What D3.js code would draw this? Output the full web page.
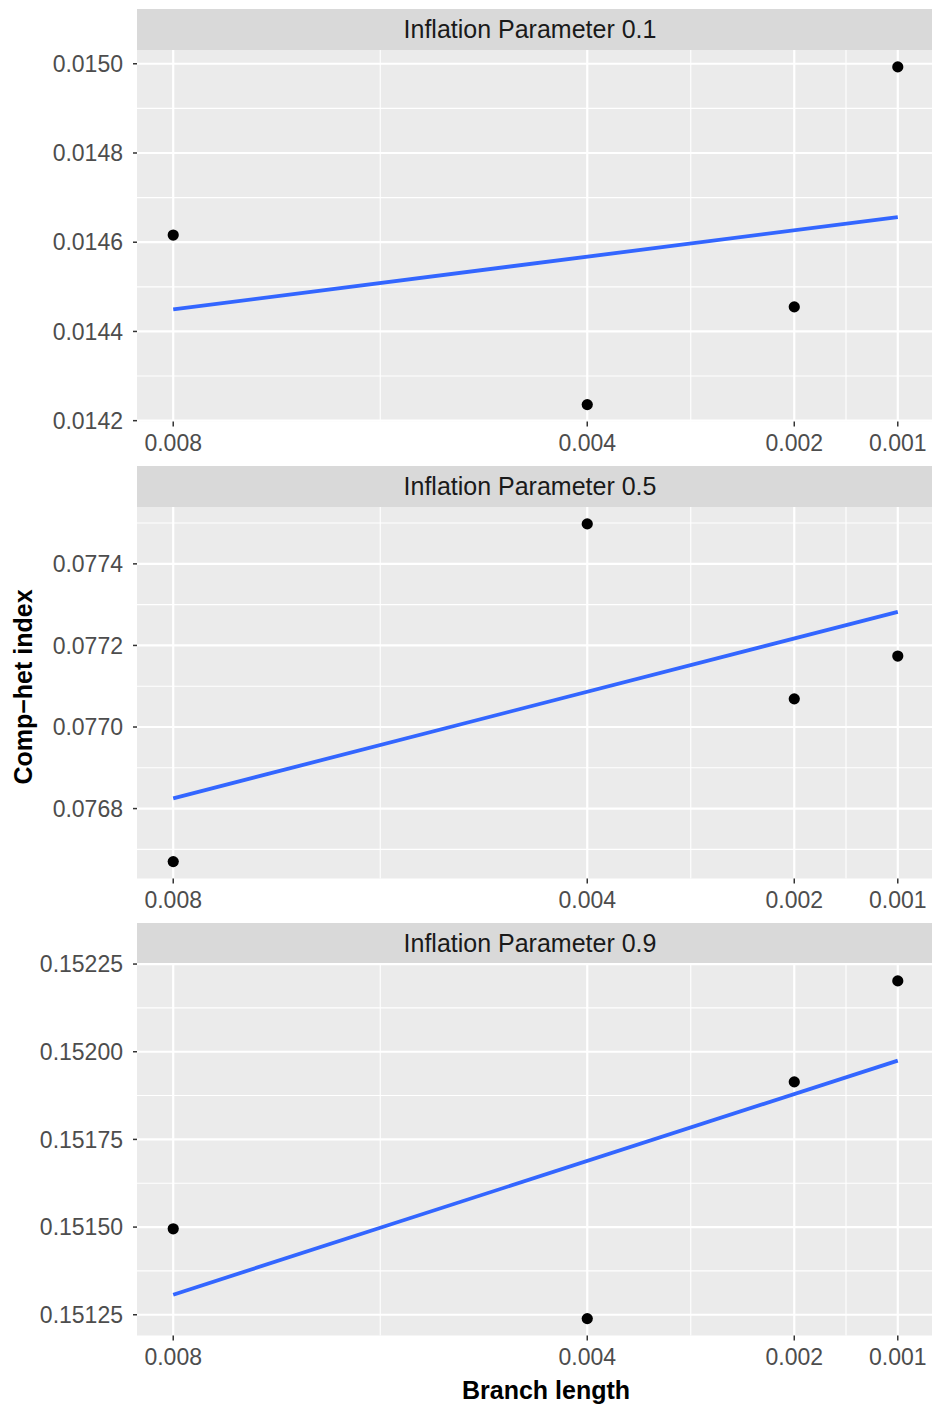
<!DOCTYPE html>
<html>
	<head>
		<meta charset="utf-8">
		<title>Comp-het index by branch length</title>
		<script type="text/javascript" src="https://cdn.jsdelivr.net/npm/d3@7"></script>
		<style type="text/css">
			body{
				margin: 0;
				background: #fff;
			}
			svg{
				display: block;
				font-family: "Liberation Sans", Arial, Helvetica, sans-serif;
			}
			.tick-label{
				fill: #4d4d4d;
				font-size: 23px;
			}
			.strip-label{
				fill: #1a1a1a;
				font-size: 25px;
			}
			.axis-title{
				fill: #000;
				font-size: 25px;
				font-weight: bold;
			}
		</style>
	</head>
	<body>
	<script type="text/javascript">
		const width = 932, height = 1405;

		// data
		const branchLength = [0.008, 0.004, 0.002, 0.001];
		const xTicks = [0.008, 0.004, 0.002, 0.001];
		const xTickLabels = ["0.008", "0.004", "0.002", "0.001"];

		const facetLabels = ["Inflation Parameter 0.1", "Inflation Parameter 0.5", "Inflation Parameter 0.9"];
		const compHet01 = [0.014616, 0.014236, 0.014455, 0.014993];
		const compHet05 = [0.076670, 0.077498, 0.077069, 0.077174];
		const compHet09 = [0.151495, 0.151239, 0.151914, 0.152202];

		const yTicks01 = [0.0142, 0.0144, 0.0146, 0.0148, 0.0150];
		const yTicks05 = [0.0768, 0.0770, 0.0772, 0.0774];
		const yTicks09 = [0.15125, 0.15150, 0.15175, 0.15200, 0.15225];
		const yTickLabels01 = ["0.0142", "0.0144", "0.0146", "0.0148", "0.0150"];
		const yTickLabels05 = ["0.0768", "0.0770", "0.0772", "0.0774"];
		const yTickLabels09 = ["0.15125", "0.15150", "0.15175", "0.15200", "0.15225"];

		const facets = [
			{label: facetLabels[0], values: compHet01, ticks: yTicks01, tickLabels: yTickLabels01},
			{label: facetLabels[1], values: compHet05, ticks: yTicks05, tickLabels: yTickLabels05},
			{label: facetLabels[2], values: compHet09, ticks: yTicks09, tickLabels: yTickLabels09}
		];

		// layout (panel runs a touch past the right edge, as in the original export)
		const panelLeft = 137, panelRight = 934;
		const firstTop = 50, panelHeight = 371.5, panelStep = 457, stripHeight = 41;

		// least squares line, like geom_smooth(method = "lm")
		function linearFit(xs, ys){
			const mx = d3.mean(xs), my = d3.mean(ys);
			let sxy = 0, sxx = 0;
			for(let i=0; i<xs.length; i++){
				sxy += (xs[i] - mx) * (ys[i] - my);
				sxx += (xs[i] - mx) * (xs[i] - mx);
			}
			const slope = sxy / sxx;
			return function(x){ return my + slope * (x - mx); };
		}

		// ggplot style: midpoints between breaks, plus one step outside each end
		function minorBreaks(ticks, domain){
			let out = [];
			const lo = Math.min(domain[0], domain[1]), hi = Math.max(domain[0], domain[1]);
			for(let i=0; i<ticks.length-1; i++){
				out.push((ticks[i] + ticks[i+1]) / 2);
			}
			const stepA = ticks[1] - ticks[0];
			const stepB = ticks[ticks.length-1] - ticks[ticks.length-2];
			out.push(ticks[0] - stepA / 2);
			out.push(ticks[ticks.length-1] + stepB / 2);
			return out.filter(function(v){ return v >= lo && v <= hi; });
		}

		function expand(ext, mult){
			const pad = (ext[1] - ext[0]) * mult;
			return [ext[0] - pad, ext[1] + pad];
		}

		const xExt = d3.extent(branchLength);
		const xDomain = expand(xExt, 0.05);
		let xScale = d3.scaleLinear()
					.domain([xDomain[1], xDomain[0]])
					.range([panelLeft, panelRight]);

		const xMinor = minorBreaks(xTicks, xScale.domain());

		let svg = d3.select("body")
					.append("svg")
					.attr("width", width)
					.attr("height", height);

		facets.forEach(function(f, i){
			const top = firstTop + i * panelStep;
			const bottom = top + panelHeight;

			const fit = linearFit(branchLength, f.values);
			const lineVals = [fit(xExt[0]), fit(xExt[1])];
			const yDomain = expand(d3.extent(f.values.concat(lineVals)), 0.05);

			let yScale = d3.scaleLinear()
						.domain(yDomain)
						.range([bottom, top]);

			const yMinor = minorBreaks(f.ticks, yDomain);

			let g = svg.append("g");

			// strip
			g.append("rect")
				.attr("x", panelLeft)
				.attr("y", top - stripHeight)
				.attr("width", panelRight - panelLeft)
				.attr("height", stripHeight)
				.attr("fill", "#d9d9d9");

			g.append("text")
				.attr("class", "strip-label")
				.attr("x", 530)
				.attr("y", top - stripHeight / 2 + 8)
				.attr("text-anchor", "middle")
				.text(f.label);

			// panel background
			g.append("rect")
				.attr("x", panelLeft)
				.attr("y", top)
				.attr("width", panelRight - panelLeft)
				.attr("height", panelHeight)
				.attr("fill", "#ebebeb");

			// minor grid
			g.selectAll("line.yminor")
				.data(yMinor)
				.enter()
				.append("line")
				.attr("class", "yminor")
				.attr("x1", panelLeft)
				.attr("x2", panelRight)
				.attr("y1", function(d){ return yScale(d); })
				.attr("y2", function(d){ return yScale(d); })
				.attr("stroke", "#fff")
				.attr("stroke-width", 1.1);

			g.selectAll("line.xminor")
				.data(xMinor)
				.enter()
				.append("line")
				.attr("class", "xminor")
				.attr("x1", function(d){ return xScale(d); })
				.attr("x2", function(d){ return xScale(d); })
				.attr("y1", top)
				.attr("y2", bottom)
				.attr("stroke", "#fff")
				.attr("stroke-width", 1.1);

			// major grid
			g.selectAll("line.ymajor")
				.data(f.ticks)
				.enter()
				.append("line")
				.attr("class", "ymajor")
				.attr("x1", panelLeft)
				.attr("x2", panelRight)
				.attr("y1", function(d){ return yScale(d); })
				.attr("y2", function(d){ return yScale(d); })
				.attr("stroke", "#fff")
				.attr("stroke-width", 2.2);

			g.selectAll("line.xmajor")
				.data(xTicks)
				.enter()
				.append("line")
				.attr("class", "xmajor")
				.attr("x1", function(d){ return xScale(d); })
				.attr("x2", function(d){ return xScale(d); })
				.attr("y1", top)
				.attr("y2", bottom)
				.attr("stroke", "#fff")
				.attr("stroke-width", 2.2);

			// fitted line
			g.append("line")
				.attr("x1", xScale(xExt[1]))
				.attr("y1", yScale(lineVals[1]))
				.attr("x2", xScale(xExt[0]))
				.attr("y2", yScale(lineVals[0]))
				.attr("stroke", "#3366ff")
				.attr("stroke-width", 3.8);

			// points
			g.selectAll("circle")
				.data(f.values)
				.enter()
				.append("circle")
				.attr("cx", function(d, j){ return xScale(branchLength[j]); })
				.attr("cy", function(d){ return yScale(d); })
				.attr("r", 5.6)
				.attr("fill", "#000");

			// y axis ticks + labels
			g.selectAll("line.ytick")
				.data(f.ticks)
				.enter()
				.append("line")
				.attr("class", "ytick")
				.attr("x1", panelLeft - 4)
				.attr("x2", panelLeft)
				.attr("y1", function(d){ return yScale(d); })
				.attr("y2", function(d){ return yScale(d); })
				.attr("stroke", "#333")
				.attr("stroke-width", 1.5);

			g.selectAll("text.ylab")
				.data(f.ticks)
				.enter()
				.append("text")
				.attr("class", "tick-label ylab")
				.attr("x", panelLeft - 14)
				.attr("y", function(d){ return yScale(d); })
				.attr("dy", "0.36em")
				.attr("text-anchor", "end")
				.text(function(d, j){ return f.tickLabels[j]; });

			// x axis ticks + labels
			g.selectAll("line.xtick")
				.data(xTicks)
				.enter()
				.append("line")
				.attr("class", "xtick")
				.attr("x1", function(d){ return xScale(d); })
				.attr("x2", function(d){ return xScale(d); })
				.attr("y1", bottom)
				.attr("y2", bottom + 5)
				.attr("stroke", "#333")
				.attr("stroke-width", 1.5);

			g.selectAll("text.xlab")
				.data(xTicks)
				.enter()
				.append("text")
				.attr("class", "tick-label xlab")
				.attr("x", function(d){ return xScale(d); })
				.attr("y", bottom + 29)
				.attr("text-anchor", "middle")
				.text(function(d, j){ return xTickLabels[j]; });
		});

		// axis titles
		svg.append("text")
			.attr("class", "axis-title")
			.attr("x", 546)
			.attr("y", 1399)
			.attr("text-anchor", "middle")
			.text("Branch length");

		svg.append("text")
			.attr("class", "axis-title")
			.attr("transform", "translate(32, 687) rotate(-90)")
			.attr("text-anchor", "middle")
			.text("Comp\u2212het index");
	</script>
	</body>
</html>
